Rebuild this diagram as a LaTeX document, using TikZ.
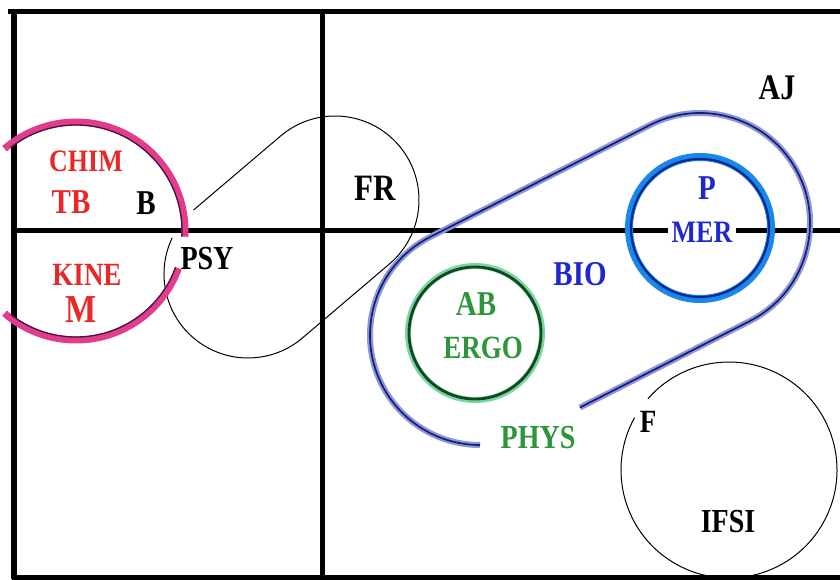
\documentclass[tikz,border=0pt]{standalone}
\usepackage{fontspec}
\setmainfont{Liberation Serif}
\definecolor{redtxt}{RGB}{232,40,40}
\definecolor{pinkband}{RGB}{226,60,140}
\definecolor{pinkdark}{RGB}{70,20,60}
\definecolor{bluetxt}{RGB}{30,40,205}
\definecolor{blueband}{RGB}{140,150,220}
\definecolor{bluedark}{RGB}{25,30,110}
\definecolor{merband}{RGB}{25,135,235}
\definecolor{merdark}{RGB}{15,40,140}
\definecolor{greentxt}{RGB}{45,150,60}
\definecolor{greenband}{RGB}{120,215,160}
\definecolor{greendark}{RGB}{20,70,35}
\newcommand\lbl[2]{\fontsize{#1}{#1}\selectfont\bfseries\scalebox{1}[1.2]{#2}}
\tikzset{
  frameline/.style={line width=5pt,black},
  thin/.style={line width=1pt,black},
  txt/.style={inner sep=1pt}
}
\begin{document}
\begin{tikzpicture}[x=1pt,y=1pt]
\useasboundingbox (0,0) rectangle (840,-580);
% frame
\draw[frameline] (8,-12) -- (840,-12);
\draw[frameline,line width=6pt] (14,-10) -- (14,-579);
\draw[frameline] (12,-577) -- (840,-577);
\draw[frameline] (12,-230) -- (840,-230);
\draw[frameline] (322,-10) -- (322,-579);
% PSY capsule
\coordinate (p1) at (248,-274);
\coordinate (p2) at (335,-200);
\draw[thin] ([shift={(154.5:84)}]p1) arc[start angle=154.5,end angle=310.4,radius=84]
  -- ([shift={(-49.6:84)}]p2) arc[start angle=-49.6,end angle=130.4,radius=84]
  -- ([shift={(130.4:84)}]p1);
% pink circle B
\coordinate (b) at (76,-231);
\draw[pinkband,line width=7pt] ([shift={(-3:109)}]b) arc[start angle=-3,end angle=131,radius=109];
\draw[pinkband,line width=7pt] ([shift={(229:109)}]b) arc[start angle=229,end angle=340,radius=109];
\draw[pinkdark,line width=1.3pt] ([shift={(-3:106)}]b) arc[start angle=-3,end angle=128,radius=106];
\draw[pinkdark,line width=1.3pt] ([shift={(232:106)}]b) arc[start angle=232,end angle=340,radius=106];
% BIO capsule
\coordinate (c1) at (480,-335);
\coordinate (c2) at (700,-223);
\coordinate (bioend) at (580,-407.5);
\foreach \st/\w in {blueband/6pt,bluedark/1.7pt}{
\draw[\st,line width=\w] (bioend) -- ([shift={(-63:110)}]c2) arc[start angle=-63,end angle=117,radius=110]
  -- ([shift={(117:110)}]c1) arc[start angle=117,end angle=270,radius=110];
}
% MER circle
\coordinate (m) at (700,-228);
\draw[merband,line width=8pt] (m) circle[radius=71];
\draw[merdark,line width=2.2pt] (m) circle[radius=69];
% ERGO circle
\coordinate (g) at (475,-333);
\draw[greenband,line width=6pt] (g) circle[radius=67];
\draw[greendark,line width=2.8pt] (g) circle[radius=66];
% IFSI circle
\coordinate (f) at (729,-470);
\draw[thin] ([shift={(151:108)}]f) arc[start angle=151,end angle=498.7,radius=108];
% labels
\node[txt,text=redtxt] (chim) at (86,-161) {\lbl{26}{CHIM}};
\node[txt,text=redtxt] (tb) at (71,-202) {\lbl{29}{TB}};
\node[txt] (bl) at (146,-203) {\lbl{29}{B}};
\node[txt,text=redtxt] (kine) at (87,-275) {\lbl{27}{KINE}};
\node[txt,text=redtxt] (ml) at (81,-310) {\lbl{33}{M}};
\node[txt] (psy) at (207,-259) {\lbl{28}{PSY}};
\node[txt] (fr) at (375,-188) {\lbl{31}{FR}};
\node[txt] (aj) at (777,-88) {\lbl{30}{AJ}};
\node[txt,text=bluetxt] (pl) at (707,-188) {\lbl{29}{P}};
\node[txt,text=bluetxt,fill=white,inner xsep=4pt] (mer) at (702,-232) {\lbl{26}{MER}};
\node[txt,text=bluetxt] (bio) at (580,-274) {\lbl{29}{BIO}};
\node[txt,text=greentxt] (ab) at (476,-304) {\lbl{29}{AB}};
\node[txt,text=greentxt] (ergo) at (483,-348) {\lbl{27}{ERGO}};
\node[txt,text=greentxt] (phys) at (538,-438) {\lbl{28}{PHYS}};
\node[txt] (fl) at (648,-422) {\lbl{27}{F}};
\node[txt] (ifsi) at (728,-522) {\lbl{28}{IFSI}};
\end{tikzpicture}
\end{document}
